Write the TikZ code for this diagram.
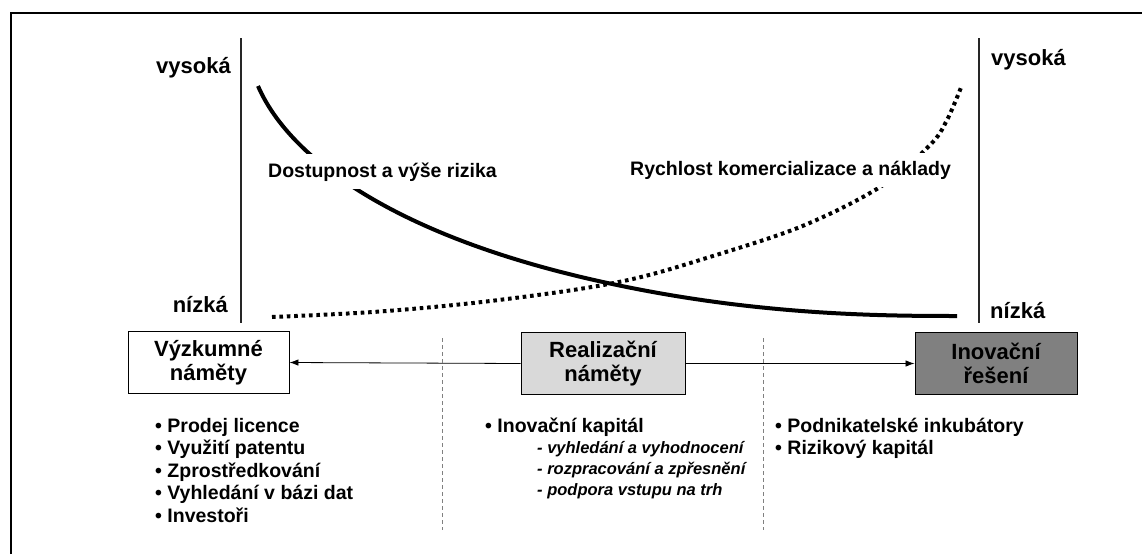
\documentclass[tikz,border=0pt]{standalone}
\usepackage{fontspec}
\setmainfont{Liberation Sans}
\usetikzlibrary{arrows.meta}
\begin{document}
\begin{tikzpicture}[x=1pt,y=-1pt,
  axisline/.style={line width=1.2pt, black!85},
  solidcurve/.style={line width=4pt},
  dotcurve/.style={line width=4pt, dash pattern=on 3.6pt off 3.8pt},
  levellabel/.style={inner sep=0pt, font=\bfseries\fontsize{22}{26}\selectfont},
  curvelabel/.style={fill=white, inner xsep=2pt, inner ysep=8pt, anchor=base west, font=\bfseries\fontsize{19.5}{23}\selectfont},
  stagebox/.style={draw=black, line width=0.9pt, minimum width=161pt, minimum height=62pt, align=center, inner sep=0pt, font=\bfseries\fontsize{22}{24.5}\selectfont},
  arr/.style={line width=0.8pt, -{Latex[length=9pt,width=6.5pt]}},
  sep/.style={line width=0.9pt, draw=black!50, dash pattern=on 4pt off 3pt},
  bul/.style={anchor=base west, inner sep=0pt, font=\bfseries\fontsize{19.5}{23}\selectfont},
  subbul/.style={anchor=base west, inner sep=0pt, font=\bfseries\itshape\fontsize{16.5}{19}\selectfont}
]
\useasboundingbox (0,0) rectangle (1142,554);
\fill[white] (0,0) rectangle (1142,554);
% frame
\coordinate (f1) at (11,554);
\coordinate (f2) at (11,13);
\coordinate (f3) at (1142,13);
\draw[line width=2.5pt] (f1) -- (f2) -- (f3);
% axes
\coordinate (la1) at (241,38);
\coordinate (la2) at (241,323);
\coordinate (ra1) at (979,38);
\coordinate (ra2) at (979,323);
\draw[axisline] (la1) -- (la2);
\draw[axisline] (ra1) -- (ra2);
\node[levellabel, anchor=base east] (hl) at (231,73) {vysoká};
\node[levellabel, anchor=base west] (hr) at (991,65) {vysoká};
\node[levellabel, anchor=base east] (ll) at (228,312) {nízká};
\node[levellabel, anchor=base west] (lr) at (990,318) {nízká};
% curves
\draw[solidcurve] (258,86) .. controls (290,160) and (400,240) .. (617,285) .. controls (760,315) and (880,316) .. (957,316);
\draw[dotcurve] plot[smooth, tension=0.55] coordinates {(272,317) (373,312) (473,303) (573,290) (637,278) (700,260) (800,227) (880,187) (930,145) (947,120) (962,85)};
\node[curvelabel] (c1) at (266,177) {Dostupnost a výše rizika};
\node[curvelabel] (c2) at (628,175) {Rychlost komercializace a náklady};
% stage boxes
\node[stagebox, fill=white] (vn) at (208.5,362.5) {Výzkumné\\náměty};
\node[stagebox, fill=black!15, minimum width=164pt] (rn) at (603,363.5) {Realizační\\náměty};
\node[stagebox, fill=black!50, minimum width=162pt] (in) at (996,363.5) {Inovační\\řešení};
\draw[arr] (rn.west) -- (vn.east);
\draw[arr] (rn.east) -- (in.west);
% separators
\coordinate (s1t) at (442,338);
\coordinate (s1b) at (442,530);
\coordinate (s2t) at (763,338);
\coordinate (s2b) at (763,530);
\draw[sep] (s1t) -- (s1b);
\draw[sep] (s2t) -- (s2b);
% left list
\node[bul] (a1) at (155,432) {• Prodej licence};
\node[bul] (a2) at (155,454.5) {• Využití patentu};
\node[bul] (a3) at (155,477) {• Zprostředkování};
\node[bul] (a4) at (155,499.5) {• Vyhledání v bázi dat};
\node[bul] (a5) at (155,522) {• Investoři};
% middle list
\node[bul] (b1) at (485,432) {• Inovační kapitál};
\node[subbul] (b2) at (537,453) {- vyhledání a vyhodnocení};
\node[subbul] (b3) at (537,474) {- rozpracování a zpřesnění};
\node[subbul] (b4) at (537,495) {- podpora vstupu na trh};
% right list
\node[bul] (d1) at (775,432) {• Podnikatelské inkubátory};
\node[bul] (d2) at (775,454.5) {• Rizikový kapitál};
\end{tikzpicture}
\end{document}
